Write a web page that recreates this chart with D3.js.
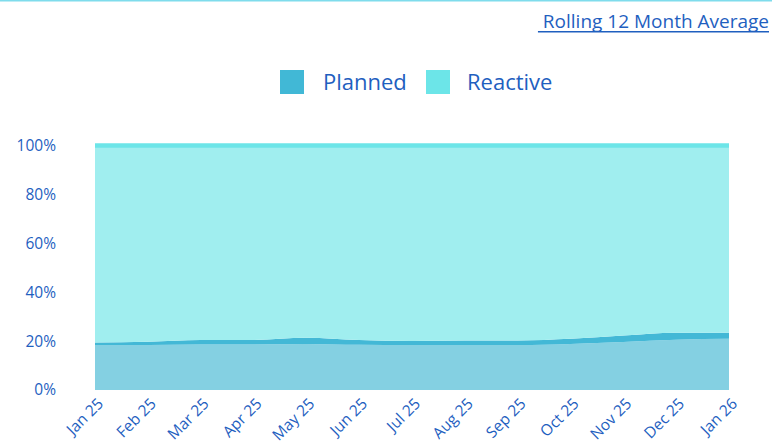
<!DOCTYPE html>
<html>
<head>
<meta charset="utf-8">
<script src="https://cdn.jsdelivr.net/npm/d3@7"></script>
<style>
  body { margin: 0; background: #fff; font-family: 'Open Sans', sans-serif; }
  svg { display: block; }
</style>
</head>
<body>
<svg id="canvas"></svg>
<script>
const months = ['Jan 25', 'Feb 25', 'Mar 25', 'Apr 25', 'May 25', 'Jun 25', 'Jul 25',
                'Aug 25', 'Sep 25', 'Oct 25', 'Nov 25', 'Dec 25', 'Jan 26'];
// planned share (top of the dark band) and the lighter fill underneath it, in %
const planned = [19.5, 19.8, 20.5, 20.5, 21.4, 20.5, 20.1, 20.3, 20.3, 21.0, 22.3, 23.5, 23.5];
const plannedFill = [18.4, 18.4, 18.6, 18.6, 18.9, 18.5, 18.4, 18.4, 18.4, 18.9, 19.7, 20.6, 21.0];
const reactive = [80.5, 80.2, 79.5, 79.5, 78.6, 79.5, 79.9, 79.7, 79.7, 79.0, 77.7, 76.5, 76.5];
const yTicks = [0, 20, 40, 60, 80, 100];

const width = 772;
const height = 444;
const blue = '#1f5fbf';

const svg = d3.select('#canvas')
    .attr('width', width)
    .attr('height', height);

// thin cyan rule along the top
svg.append('rect')
    .attr('x', 0).attr('y', 0)
    .attr('width', width).attr('height', 1.5)
    .attr('fill', '#7fdcec');

// link-style title
const title = svg.append('text')
    .attr('x', 769)
    .attr('y', 28)
    .attr('text-anchor', 'end')
    .attr('font-size', 19)
    .attr('fill', blue)
    .attr('xml:space', 'preserve')
    .text(' Rolling 12 Month Average');
const tb = title.node().getBBox();
svg.append('rect')
    .attr('x', tb.x).attr('y', 31)
    .attr('width', tb.width).attr('height', 1.5)
    .attr('fill', blue);

// legend
const legend = [
    {name: 'Planned', color: '#41b8d6', x: 280, tx: 323},
    {name: 'Reactive', color: '#6ce5e8', x: 426, tx: 467}
];
legend.forEach(d => {
    svg.append('rect')
        .attr('x', d.x).attr('y', 70)
        .attr('width', 24).attr('height', 24)
        .attr('fill', d.color);
    svg.append('text')
        .attr('x', d.tx).attr('y', 82)
        .attr('dy', '0.35em')
        .attr('font-size', 22)
        .attr('fill', blue)
        .text(d.name);
});

const xScale = d3.scalePoint()
    .domain(months)
    .range([95, 729]);

const yScale = d3.scaleLinear()
    .domain([0, 100])
    .range([390, 146]);

const curve = d3.curveMonotoneX;

// planned: light fill
svg.append('path')
    .datum(months)
    .attr('fill', '#84d0e2')
    .attr('d', d3.area()
        .x(m => xScale(m))
        .y0(yScale(0))
        .y1((m, i) => yScale(plannedFill[i]))
        .curve(curve));

// planned: darker band on top
svg.append('path')
    .datum(months)
    .attr('fill', '#43b8d6')
    .attr('d', d3.area()
        .x(m => xScale(m))
        .y0((m, i) => yScale(plannedFill[i]))
        .y1((m, i) => yScale(planned[i]))
        .curve(curve));

// reactive stacked on planned
svg.append('path')
    .datum(months)
    .attr('fill', '#a0eeef')
    .attr('d', d3.area()
        .x(m => xScale(m))
        .y0((m, i) => yScale(planned[i]))
        .y1((m, i) => yScale(planned[i] + reactive[i]))
        .curve(curve));

svg.append('path')
    .datum(months)
    .attr('fill', 'none')
    .attr('stroke', '#6ce5e8')
    .attr('stroke-width', 4.5)
    .attr('d', d3.line()
        .x(m => xScale(m))
        .y((m, i) => yScale(planned[i] + reactive[i]) - 0.5)
        .curve(curve));

// y axis
const yAxis = d3.axisLeft(yScale)
    .tickValues(yTicks)
    .tickFormat(d => d + '%')
    .tickSize(0)
    .tickPadding(0);
const gy = svg.append('g')
    .attr('transform', 'translate(56, 0)')
    .call(yAxis);
gy.select('.domain').remove();
gy.selectAll('text')
    .attr('font-family', "'Open Sans', sans-serif")
    .attr('font-size', 15.5)
    .attr('fill', blue);

// x axis
const xAxis = d3.axisBottom(xScale)
    .tickSize(0)
    .tickPadding(0);
const gx = svg.append('g')
    .attr('transform', 'translate(0, 397)')
    .call(xAxis);
gx.select('.domain').remove();
gx.selectAll('text')
    .attr('font-family', "'Open Sans', sans-serif")
    .attr('font-size', 15.5)
    .attr('fill', blue)
    .attr('text-anchor', 'end')
    .attr('dy', '0.7em')
    .attr('transform', 'translate(1, 0) rotate(-45)');
</script>
</body>
</html>
